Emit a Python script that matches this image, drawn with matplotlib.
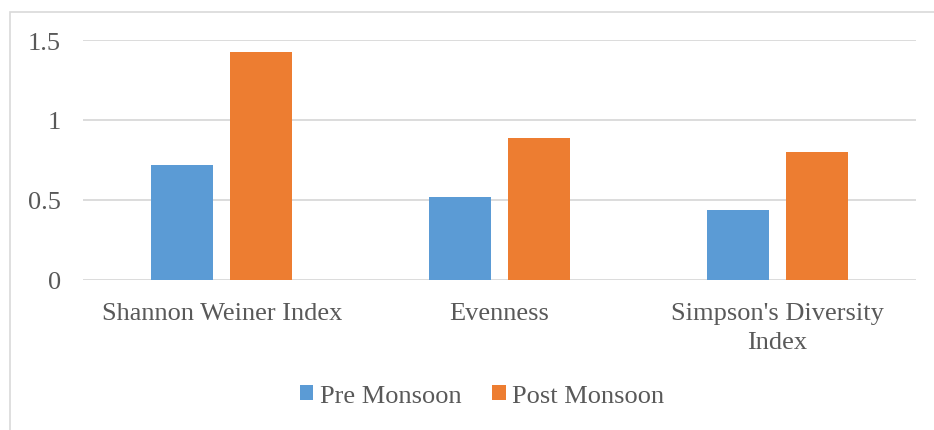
import numpy as np
import matplotlib
matplotlib.use("Agg")
import matplotlib.pyplot as plt
from matplotlib.patches import Patch, Rectangle

categories = ["Shannon Weiner Index", "Evenness", "Simpson's Diversity\nIndex"]
pre_monsoon = [0.72, 0.517, 0.437]
post_monsoon = [1.426, 0.888, 0.798]
series_names = ["Pre Monsoon", "Post Monsoon"]
yticks = [0, 0.5, 1, 1.5]
ytick_labels = ["0", "0.5", "1", "1.5"]

blue = "#5B9BD5"
orange = "#ED7D31"
grid_col = "#D9D9D9"
text_col = "#595959"

plt.rcParams["font.family"] = "serif"
plt.rcParams["font.serif"] = ["Liberation Serif", "Times New Roman", "DejaVu Serif"]

fig = plt.figure(figsize=(9.34, 4.31), dpi=100)
ax = fig.add_axes([83 / 934, 1 - 280.5 / 431, 833 / 934, 239.5 / 431])

# outer chart frame (only top and left visible in the reference)
fig.patches.append(Rectangle((10 / 934, -0.1), 1.2, 1 - 12.5 / 431 + 0.1,
                             transform=fig.transFigure, fill=False,
                             edgecolor=grid_col, linewidth=1.2))

x = np.arange(len(categories))
w = 0.224
off = 0.1425
ax.bar(x - off, pre_monsoon, w, color=blue, zorder=3)
ax.bar(x + off, post_monsoon, w, color=orange, zorder=3)

ax.set_xlim(-0.5, 2.5)
ax.set_ylim(0, 1.5)
ax.set_yticks(yticks)
ax.set_yticklabels(ytick_labels)
ax.set_xticks(x)
ax.set_xticklabels(categories, linespacing=1.4)
ax.yaxis.grid(True, color=grid_col, linewidth=1.3, zorder=0)
ax.set_axisbelow(True)
for s in ax.spines.values():
    s.set_visible(False)
ax.tick_params(axis="both", length=0, labelsize=19, labelcolor=text_col)
ax.tick_params(axis="y", pad=16)
ax.tick_params(axis="x", pad=16)

handles = [Patch(facecolor=blue), Patch(facecolor=orange)]
fig.legend(handles, series_names, loc="center", bbox_to_anchor=(482 / 934, 1 - 397 / 431),
           ncol=2, frameon=False, fontsize=19, labelcolor=text_col,
           handlelength=0.52, handleheight=0.52, handletextpad=0.25,
           columnspacing=1.15, borderpad=0, borderaxespad=0)

fig.savefig("out.png", dpi=100)
